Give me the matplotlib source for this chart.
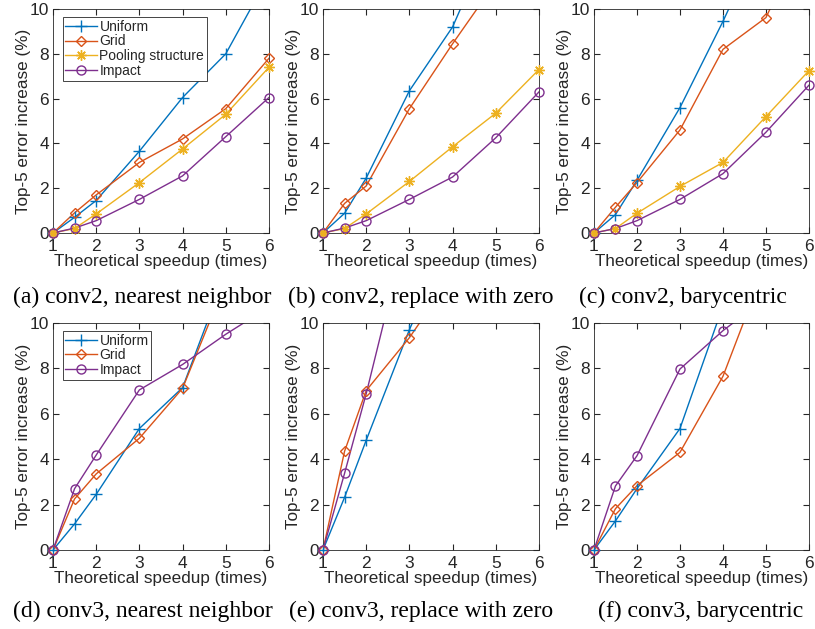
import numpy as np
import matplotlib
matplotlib.use('Agg')
import matplotlib.pyplot as plt

# Datos
speedup = [1, 1.5, 2, 3, 4, 5, 6]

# conv2
a_uniform = [0, 0.7, 1.45, 3.65, 6.05, 8.0, 11.5]
a_grid = [0, 0.9, 1.7, 3.15, 4.2, 5.55, 7.8]
a_pool = [0, 0.2, 0.85, 2.25, 3.75, 5.3, 7.4]
a_impact = [0, 0.22, 0.55, 1.5, 2.55, 4.3, 6.05]

b_uniform = [0, 0.88, 2.45, 6.35, 9.2, 13.6, 18.0]
b_grid = [0, 1.32, 2.1, 5.55, 8.45, 11.2, 14.0]
b_pool = [0, 0.2, 0.85, 2.3, 3.85, 5.35, 7.3]
b_impact = [0, 0.22, 0.55, 1.5, 2.5, 4.25, 6.3]

c_uniform = [0, 0.82, 2.35, 5.6, 9.45, 13.6, 18.0]
c_grid = [0, 1.15, 2.25, 4.6, 8.2, 9.62, 13.7]
c_pool = [0, 0.2, 0.88, 2.08, 3.15, 5.2, 7.25]
c_impact = [0, 0.2, 0.55, 1.5, 2.65, 4.5, 6.6]

# conv3
d_uniform = [0, 1.15, 2.45, 5.35, 7.15, 12.2, 16.0]
d_grid = [0, 2.25, 3.35, 4.92, 7.12, 11.8, 15.0]
d_impact = [0, 2.7, 4.18, 7.05, 8.17, 9.5, 10.7]

e_uniform = [0, 2.32, 4.83, 9.7, 14.0, 18.0, 22.0]
e_grid = [0, 4.35, 7.02, 9.35, 12.1, 15.0, 18.0]
e_impact = [0, 3.38, 6.88, 14.6, 20.0, 25.0, 30.0]

f_uniform = [0, 1.28, 2.7, 5.35, 10.75, 15.0, 19.0]
f_grid = [0, 1.82, 2.83, 4.3, 7.65, 12.6, 16.0]
f_impact = [0, 2.82, 4.15, 7.97, 9.66, 11.1, 13.0]

captions = ['(a) conv2, nearest neighbor', '(b) conv2, replace with zero',
            '(c) conv2, barycentric', '(d) conv3, nearest neighbor',
            '(e) conv3, replace with zero', '(f) conv3, barycentric']

nombres = ['Uniform', 'Grid', 'Pooling structure', 'Impact']
colores = ['#0072BD', '#D95319', '#EDB120', '#7E2F8E']
marcas = ['+', 'D', (8, 2, 0), 'o']
tamanos = [8, 5.5, 7.5, 6.5]

paneles = [
    [a_uniform, a_grid, a_pool, a_impact],
    [b_uniform, b_grid, b_pool, b_impact],
    [c_uniform, c_grid, c_pool, c_impact],
    [d_uniform, d_grid, None, d_impact],
    [e_uniform, e_grid, None, e_impact],
    [f_uniform, f_grid, None, f_impact],
]

plt.rcParams['font.family'] = ['Liberation Sans', 'DejaVu Sans']

fig = plt.figure(figsize=(8.15, 6.29), dpi=100)

lefts = [0.065, 0.3963, 0.7288]
anchos = [0.265, 0.265, 0.2638]
posiciones = []
for bot, alto in [(0.6296, 0.356), (0.1256, 0.361)]:
    for col in range(3):
        posiciones.append([lefts[col], bot, anchos[col], alto])

cap_x = [13, 288, 579, 13, 289, 598]
cap_y = [297, 297, 297, 611, 611, 611]

gris = '#262626'
xs = np.array(speedup)

for k, series in enumerate(paneles):
    ax = fig.add_axes(posiciones[k])
    handles = []
    for s, ys in enumerate(series):
        if ys is None:
            continue
        ys = np.array(ys)
        mfc = 'none' if s in (1, 3) else colores[s]
        estilo = dict(color=colores[s], marker=marcas[s], markersize=tamanos[s],
                      markerfacecolor=mfc, markeredgewidth=1.0)
        # linea recortada en el eje
        ax.plot(xs, ys, color=colores[s], lw=1.0)
        # marcas visibles sin recorte (como en MATLAB)
        m = ys <= 10
        ax.plot(xs[m], ys[m], ls='none', clip_on=False, zorder=3, **estilo)
        # proxy para la leyenda
        h, = ax.plot([], [], lw=1.0, label=nombres[s], **estilo)
        handles.append(h)
    ax.set_xlim(1, 6)
    ax.set_ylim(0, 10)
    ax.set_xticks([1, 2, 3, 4, 5, 6])
    ax.set_yticks([0, 2, 4, 6, 8, 10])
    ax.tick_params(direction='in', top=True, right=True, length=4,
                   labelsize=12.5, colors=gris, pad=4)
    ax.tick_params(axis='y', pad=3)
    for sp in ax.spines.values():
        sp.set_color(gris)
        sp.set_linewidth(0.6)
    ax.set_xlabel('Theoretical speedup (times)', fontsize=12.3, color=gris,
                  labelpad=0)
    ax.set_ylabel('Top-5 error increase (%)', fontsize=12.3, color=gris,
                  labelpad=-1)
    if k in (0, 3):
        leg = ax.legend(handles=handles, loc='upper left', fontsize=10,
                        bbox_to_anchor=(0.045, 0.965), borderaxespad=0,
                        fancybox=False, edgecolor=gris, handlelength=2.3,
                        handletextpad=0.15, borderpad=0.2, labelspacing=0.05,
                        framealpha=1)
        leg.get_frame().set_linewidth(0.6)
        for t in leg.get_texts():
            t.set_color(gris)
    fig.text(cap_x[k] / 815, 1 - cap_y[k] / 629, captions[k],
             family='Liberation Serif', fontsize=17, ha='left', va='center')

plt.savefig('out.png', dpi=100)
